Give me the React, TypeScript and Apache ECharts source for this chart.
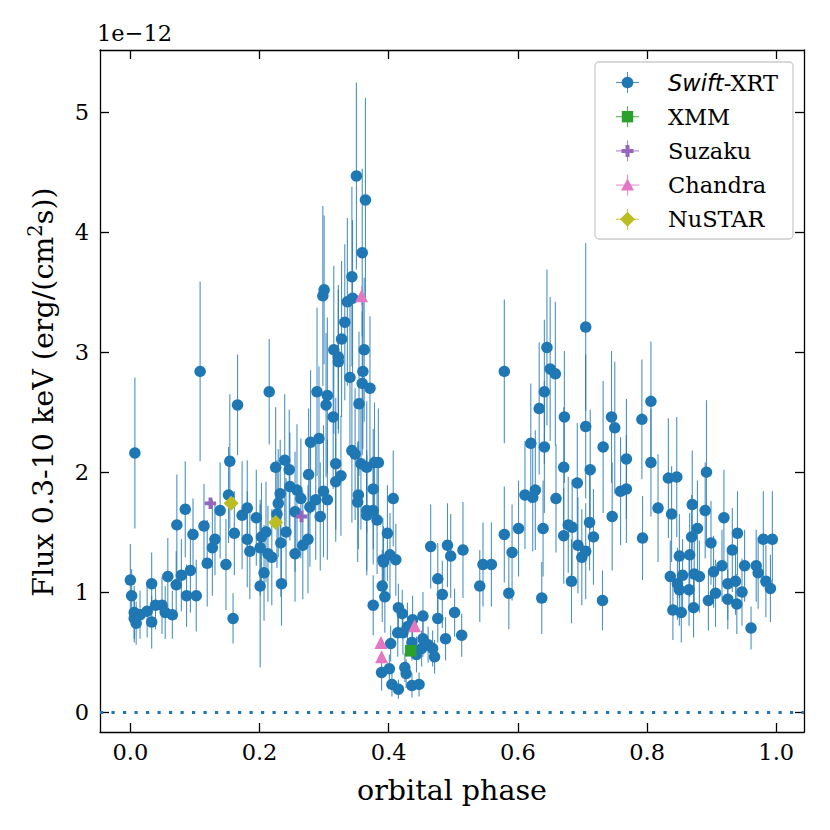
import React, { useEffect, useRef } from "react";
import * as echarts from "echarts";

// [orbital phase, flux (1e-12 erg/cm2/s), 1-sigma error]
const swiftData: number[][] = [
  [0.000,1.10,0.30],[0.002,0.97,0.22],[0.006,0.83,0.22],[0.006,0.78,0.20],[0.007,2.16,0.63],
  [0.009,0.74,0.18],[0.015,0.81,0.20],[0.026,0.84,0.22],[0.033,1.07,0.26],[0.033,0.75,0.22],
  [0.039,0.89,0.20],[0.049,0.89,0.24],[0.054,0.83,0.22],[0.058,1.13,0.32],[0.065,0.81,0.20],
  [0.071,1.06,0.28],[0.072,1.56,0.42],[0.079,1.14,0.30],[0.085,1.69,0.40],[0.087,0.97,0.26],
  [0.093,1.18,0.35],[0.097,1.48,0.30],[0.102,0.97,0.30],[0.108,2.84,0.75],[0.114,1.55,0.35],
  [0.119,1.24,0.36],[0.127,1.37,0.40],[0.131,1.44,0.30],[0.139,1.68,0.40],[0.148,1.23,0.38],
  [0.152,1.81,0.40],[0.154,2.09,0.56],[0.159,0.78,0.21],[0.161,1.49,0.35],[0.166,2.56,0.42],
  [0.173,1.64,0.45],[0.181,1.70,0.40],[0.181,1.44,0.40],[0.185,1.34,0.40],[0.195,1.62,0.40],
  [0.201,1.37,0.40],[0.201,1.05,0.68],[0.203,1.46,0.45],[0.207,1.16,0.40],[0.210,1.50,0.42],
  [0.213,1.32,0.40],[0.215,2.67,0.44],[0.219,1.29,0.40],[0.225,2.04,0.50],[0.227,1.65,0.45],
  [0.229,1.74,0.45],[0.232,1.82,0.45],[0.233,1.41,0.45],[0.234,1.07,0.35],[0.239,2.10,0.55],
  [0.241,1.50,0.45],[0.246,2.02,0.50],[0.247,1.88,0.45],[0.255,1.67,0.50],[0.255,1.32,0.40],
  [0.258,1.85,0.55],[0.264,1.78,0.50],[0.267,1.39,0.45],[0.275,1.44,0.45],[0.276,1.98,0.55],
  [0.278,1.71,0.50],[0.279,2.25,0.60],[0.287,1.77,0.50],[0.289,2.67,0.70],[0.292,2.28,0.60],
  [0.294,1.63,0.45],[0.298,3.47,0.75],[0.299,1.84,0.55],[0.300,3.52,0.62],[0.303,2.56,0.60],
  [0.305,2.64,0.65],[0.305,1.77,0.50],[0.314,2.46,0.60],[0.315,3.02,0.70],[0.318,2.07,0.55],
  [0.318,1.92,0.50],[0.322,2.96,0.60],[0.322,2.92,0.60],[0.326,1.97,0.50],[0.327,3.11,0.65],
  [0.332,3.25,0.65],[0.336,3.42,0.70],[0.340,2.79,0.60],[0.343,3.63,0.75],[0.343,2.18,0.60],
  [0.344,3.45,0.65],[0.348,2.15,0.55],[0.350,4.47,0.78],[0.352,1.75,0.50],[0.353,1.81,0.45],
  [0.354,2.57,0.60],[0.357,2.07,0.55],[0.359,3.83,0.70],[0.359,2.74,0.60],[0.360,2.84,0.65],
  [0.362,3.02,0.60],[0.364,4.27,0.85],[0.366,2.04,0.55],[0.366,1.68,0.50],[0.366,1.64,0.50],
  [0.371,2.70,0.60],[0.376,1.86,0.50],[0.376,1.68,0.45],[0.376,0.89,0.25],[0.378,2.08,0.50],
  [0.382,1.60,0.45],[0.384,2.08,0.45],[0.389,0.33,0.15],[0.390,1.05,0.30],[0.391,1.27,0.35],
  [0.392,1.25,0.30],[0.394,0.96,0.30],[0.398,1.49,0.40],[0.401,0.36,0.12],[0.402,1.31,0.35],
  [0.403,0.57,0.15],[0.405,0.23,0.10],[0.407,1.78,0.40],[0.411,1.27,0.30],[0.414,0.66,0.20],
  [0.415,0.87,0.20],[0.415,0.19,0.08],[0.421,0.82,0.20],[0.422,0.66,0.18],[0.425,0.37,0.12],
  [0.427,0.32,0.12],[0.429,0.71,0.20],[0.436,0.58,0.15],[0.436,0.22,0.10],[0.437,0.77,0.20],
  [0.443,0.48,0.15],[0.447,0.23,0.10],[0.451,0.53,0.15],[0.453,0.80,0.20],[0.453,0.61,0.15],
  [0.461,0.56,0.15],[0.465,1.38,0.35],[0.468,0.53,0.15],[0.471,0.46,0.14],[0.476,1.11,0.30],
  [0.476,0.78,0.20],[0.483,0.98,0.28],[0.488,0.61,0.18],[0.491,1.39,0.35],[0.496,1.30,0.35],
  [0.502,0.83,0.20],[0.513,0.64,0.18],[0.515,1.35,0.40],[0.541,1.05,0.30],[0.546,1.23,0.35],
  [0.559,1.23,0.35],[0.579,2.84,0.60],[0.579,1.48,0.40],[0.586,0.99,0.30],[0.591,1.33,0.40],
  [0.601,1.53,0.40],[0.611,1.81,0.45],[0.620,2.24,0.50],[0.623,1.79,0.45],[0.627,1.85,0.50],
  [0.633,2.53,0.55],[0.637,0.95,0.30],[0.639,1.53,0.40],[0.641,2.67,0.60],[0.641,2.21,0.55],
  [0.645,3.04,0.65],[0.650,2.86,0.60],[0.658,2.82,0.60],[0.659,1.78,0.45],[0.671,2.04,0.50],
  [0.671,1.47,0.40],[0.672,2.46,0.55],[0.678,1.56,0.40],[0.683,1.09,0.35],[0.684,1.54,0.40],
  [0.692,1.91,0.50],[0.693,1.39,0.40],[0.699,1.29,0.40],[0.705,3.21,0.70],[0.705,2.38,0.60],
  [0.705,1.34,0.40],[0.711,1.58,0.40],[0.712,2.02,0.50],[0.717,1.46,0.40],[0.731,0.93,0.25],
  [0.732,2.21,0.55],[0.745,2.46,0.55],[0.746,1.63,0.45],[0.750,2.37,0.55],[0.759,1.84,0.45],
  [0.768,2.11,0.50],[0.768,1.86,0.45],[0.792,2.44,0.50],[0.793,1.45,0.35],[0.806,2.59,0.50],
  [0.806,2.08,0.45],[0.817,1.70,0.45],[0.833,1.95,0.50],[0.836,1.13,0.30],[0.838,1.65,0.40],
  [0.840,0.85,0.25],[0.846,1.96,0.50],[0.847,1.07,0.30],[0.850,1.02,0.30],[0.850,1.30,0.35],
  [0.853,0.83,0.25],[0.855,1.14,0.30],[0.865,1.02,0.30],[0.866,1.31,0.35],[0.869,1.46,0.35],
  [0.870,1.73,0.45],[0.872,0.87,0.25],[0.873,1.15,0.30],[0.878,1.53,0.40],[0.881,1.13,0.30],
  [0.890,1.68,0.40],[0.892,2.00,0.60],[0.895,0.93,0.25],[0.899,1.41,0.35],[0.903,1.17,0.30],
  [0.906,0.99,0.28],[0.916,1.22,0.30],[0.919,1.62,0.40],[0.925,1.07,0.30],[0.925,0.94,0.25],
  [0.932,1.35,0.35],[0.937,1.09,0.28],[0.939,0.90,0.25],[0.940,1.49,0.35],[0.947,1.00,0.28],
  [0.951,1.22,0.30],[0.961,0.70,0.18],[0.969,1.22,0.30],[0.972,1.16,0.30],[0.980,1.44,0.40],
  [0.984,1.09,0.30],[0.991,1.03,0.28],[0.994,1.44,0.40],
];
const xmmData: number[][] = [[0.434, 0.51, 0.03]];
const suzakuData: number[][] = [[0.124, 1.74, 0.04], [0.265, 1.63, 0.04]];
const chandraData: number[][] = [[0.358, 3.47, 0.08], [0.388, 0.58, 0.04], [0.389, 0.46, 0.04], [0.440, 0.72, 0.04]];
const nustarData: number[][] = [[0.156, 1.74, 0.03], [0.225, 1.58, 0.03]];

const xTicks = [0, 0.2, 0.4, 0.6, 0.8, 1.0];
const yTicks = [0, 1, 2, 3, 4, 5];
const X_MIN = -0.047, X_MAX = 1.043, Y_MIN = -0.167, Y_MAX = 5.52;

const C_SWIFT = "#1f77b4", C_XMM = "#2ca02c", C_SUZ = "#9467bd", C_CHA = "#e377c2", C_NU = "#bcbd22";
const SERIF = "DejaVu Serif";
const PLUS = "path://M4,0H8V4H12V8H8V12H4V8H0V4H4Z";
const TICK_FS = 22.5;
const LABEL_FS = 28.5;
const LEGEND_FS = 22.5;

function errSeries(data: number[][], color: string, z: number) {
  return {
    type: "custom",
    silent: true,
    z,
    data: data.map((d) => [d[0], d[1] - d[2], d[1] + d[2]]),
    encode: { x: 0, y: [1, 2] },
    renderItem: (_p: any, api: any) => {
      const x = api.value(0);
      const lo = api.coord([x, api.value(1)]);
      const hi = api.coord([x, api.value(2)]);
      return {
        type: "line",
        shape: { x1: lo[0], y1: lo[1], x2: hi[0], y2: hi[1] },
        style: { stroke: color, lineWidth: 1.1, opacity: 0.8 },
      };
    },
  };
}

function ptSeries(name: string, data: number[][], color: string, symbol: string, size: number, z: number) {
  return {
    type: "scatter",
    name,
    z,
    symbol,
    symbolSize: size,
    itemStyle: { color, opacity: 1 },
    data: data.map((d) => [d[0], d[1]]),
  };
}

function axisCommon(ticks: number[], showLabel: boolean, fmt: (v: number) => string, margin: number) {
  return {
    type: "value",
    axisLine: { show: true, onZero: false, lineStyle: { color: "#000", width: 1.3 } },
    axisTick: { show: true, inside: true, length: 9, customValues: ticks, lineStyle: { color: "#000", width: 1.3 } },
    axisLabel: {
      show: showLabel,
      customValues: ticks,
      formatter: fmt,
      color: "#000",
      fontFamily: SERIF,
      fontSize: TICK_FS,
      margin,
    },
    splitLine: { show: false },
  };
}

export default function App() {
  const ref = useRef<HTMLDivElement>(null);
  useEffect(() => {
    if (!ref.current) return;
    const chart = echarts.init(ref.current, undefined, { renderer: "svg" });
    const fx = (v: number) => v.toFixed(1);
    const fy = (v: number) => String(v);

    const legendItems = [
      { name: "swift", color: C_SWIFT },
      { name: "XMM", color: C_XMM },
      { name: "Suzaku", color: C_SUZ },
      { name: "Chandra", color: C_CHA },
      { name: "NuSTAR", color: C_NU },
    ];
    const lg: any[] = [];
    lg.push({
      type: "rect",
      shape: { x: 595, y: 62, width: 198, height: 177, r: 4 },
      style: { fill: "rgba(255,255,255,0.8)", stroke: "#cccccc", lineWidth: 1.3 },
    });
    legendItems.forEach((it, i) => {
      const cy = 82.5 + i * 34.2;
      const cx = 627.5;
      lg.push({ type: "line", shape: { x1: cx - 11.5, y1: cy, x2: cx + 11.5, y2: cy }, style: { stroke: it.color, lineWidth: 1.1, opacity: 0.8 } });
      lg.push({ type: "line", shape: { x1: cx, y1: cy - 10.5, x2: cx, y2: cy + 10.5 }, style: { stroke: it.color, lineWidth: 1.1, opacity: 0.8 } });
      if (i === 0) lg.push({ type: "circle", shape: { cx, cy, r: 5.8 }, style: { fill: it.color } });
      if (i === 1) lg.push({ type: "rect", shape: { x: cx - 5.7, y: cy - 5.7, width: 11.4, height: 11.4 }, style: { fill: it.color } });
      if (i === 2)
        lg.push({
          type: "polygon",
          shape: { points: [[cx - 2, cy - 6], [cx + 2, cy - 6], [cx + 2, cy - 2], [cx + 6, cy - 2], [cx + 6, cy + 2], [cx + 2, cy + 2], [cx + 2, cy + 6], [cx - 2, cy + 6], [cx - 2, cy + 2], [cx - 6, cy + 2], [cx - 6, cy - 2], [cx - 2, cy - 2]] },
          style: { fill: it.color },
        });
      if (i === 3) lg.push({ type: "polygon", shape: { points: [[cx, cy - 6.5], [cx + 6.5, cy + 5.5], [cx - 6.5, cy + 5.5]] }, style: { fill: it.color } });
      if (i === 4) lg.push({ type: "polygon", shape: { points: [[cx, cy - 7.5], [cx + 7.5, cy], [cx, cy + 7.5], [cx - 7.5, cy]] }, style: { fill: it.color } });
      lg.push({
        type: "text",
        x: 668,
        y: cy,
        style: {
          text: i === 0 ? "{i|Swift}-XRT" : it.name,
          fill: "#000",
          fontFamily: SERIF,
          fontSize: LEGEND_FS,
          verticalAlign: "middle",
          align: "left",
          rich: { i: { fontFamily: "DejaVu Sans", fontStyle: "italic", fontSize: LEGEND_FS } },
        },
      });
    });

    chart.setOption({
      animation: false,
      backgroundColor: "#fff",
      grid: { left: 100, top: 50, width: 704, height: 682, containLabel: false },
      xAxis: [
        { ...axisCommon(xTicks, true, fx, 8), min: X_MIN, max: X_MAX, position: "bottom" },
        { ...axisCommon(xTicks, false, fx, 8), min: X_MIN, max: X_MAX, position: "top" },
      ],
      yAxis: [
        { ...axisCommon(yTicks, true, fy, 11), min: Y_MIN, max: Y_MAX, position: "left" },
        { ...axisCommon(yTicks, false, fy, 11), min: Y_MIN, max: Y_MAX, position: "right" },
      ],
      series: [
        {
          type: "line",
          data: [],
          silent: true,
          markLine: {
            silent: true,
            symbol: "none",
            label: { show: false },
            lineStyle: { color: C_SWIFT, type: [3.2, 8.3], width: 3.2 },
            data: [{ yAxis: 0 }],
          },
        },
        errSeries(swiftData, C_SWIFT, 2),
        ptSeries("Swift-XRT", swiftData, C_SWIFT, "circle", 11.5, 3),
        errSeries(xmmData, C_XMM, 4),
        ptSeries("XMM", xmmData, C_XMM, "rect", 11.5, 5),
        errSeries(suzakuData, C_SUZ, 4),
        ptSeries("Suzaku", suzakuData, C_SUZ, PLUS, 11.5, 5),
        errSeries(chandraData, C_CHA, 4),
        ptSeries("Chandra", chandraData, C_CHA, "triangle", 13, 5),
        errSeries(nustarData, C_NU, 4),
        ptSeries("NuSTAR", nustarData, C_NU, "diamond", 15, 5),
      ],
      graphic: [
        {
          type: "text",
          x: 97,
          y: 33,
          style: { text: "1e\u221212", fill: "#000", fontFamily: SERIF, fontSize: TICK_FS, verticalAlign: "middle", align: "left" },
        },
        {
          type: "text",
          x: 452,
          y: 790,
          style: { text: "orbital phase", fill: "#000", fontFamily: SERIF, fontSize: LABEL_FS, verticalAlign: "middle", align: "center" },
        },
        {
          type: "text",
          x: 43,
          y: 392,
          rotation: Math.PI / 2,
          style: {
            text: "Flux 0.3-10 keV (erg/(cm{s|2}s))",
            fill: "#000",
            fontFamily: SERIF,
            fontSize: LABEL_FS,
            lineHeight: 36,
            verticalAlign: "middle",
            align: "center",
            rich: {
              s: { fontFamily: SERIF, fontSize: 19.5, lineHeight: 19, verticalAlign: "top" },
            },
          },
        },
        { type: "group", z: 100, children: lg },
      ],
    });
    return () => chart.dispose();
  }, []);
  return <div ref={ref} style={{ position: "fixed", left: 0, top: 0, width: 830, height: 830 }} />;
}
